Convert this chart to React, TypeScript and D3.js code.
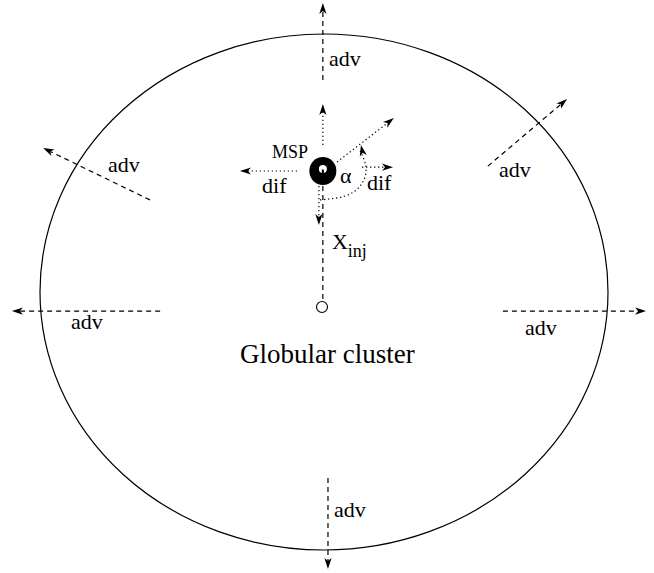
import React from "react";
import * as d3 from "d3";

// Diagram in unit coordinates: the cluster boundary is the unit ellipse.
const W = 654;
const H = 573;

type Arrow = { x1: number; y1: number; x2: number; y2: number };

// advection arrows (dashed), from inside outward
const advArrows: Arrow[] = [
  { x1: -0.004, y1: 0.822, x2: -0.004, y2: 1.12 },
  { x1: 0.014, y1: -0.721, x2: 0.014, y2: -1.074 },
  { x1: -0.577, y1: -0.074, x2: -1.099, y2: -0.074 },
  { x1: 0.63, y1: -0.074, x2: 1.134, y2: -0.074 },
  { x1: -0.613, y1: 0.357, x2: -0.989, y2: 0.558 },
  { x1: 0.577, y1: 0.488, x2: 0.856, y2: 0.748 },
];
const advLabels: [number, number][] = [
  [0.018, 0.876],
  [0.035, -0.872],
  [-0.891, -0.143],
  [0.708, -0.167],
  [-0.761, 0.465],
  [0.616, 0.446],
];

// diffusion arrows (dotted) around the MSP
const difArrows: Arrow[] = [
  { x1: -0.004, y1: 0.57, x2: -0.004, y2: 0.729 },
  { x1: -0.095, y1: 0.469, x2: -0.296, y2: 0.469 },
  { x1: 0.134, y1: 0.484, x2: 0.243, y2: 0.484 },
  { x1: 0.046, y1: 0.504, x2: 0.246, y2: 0.674 },
  { x1: -0.018, y1: 0.411, x2: -0.018, y2: 0.26 },
];
const arcPoints: [number, number][] = [
  [-0.014, 0.357],
  [0.074, 0.372],
  [0.13, 0.415],
  [0.148, 0.481],
  [0.13, 0.57],
];

const mspPos: [number, number] = [-0.004, 0.469];
const injLine: Arrow = { x1: -0.004, y1: 0.411, x2: -0.004, y2: -0.031 };
const centerPos: [number, number] = [-0.007, -0.058];

type Label = { text: string; x: number; y: number; size: number };
const labels: Label[] = [
  { text: "MSP", x: -0.183, y: 0.519, size: 18 },
  { text: "dif", x: -0.218, y: 0.384, size: 22 },
  { text: "dif", x: 0.151, y: 0.395, size: 22 },
  { text: "α", x: 0.056, y: 0.422, size: 22 },
  { text: "Globular cluster", x: -0.296, y: -0.275, size: 27 },
];
const xinj = { x: 0.028, y: 0.167 };

const xs = d3.scaleLinear().domain([-1, 1]).range([40, 608]);
const ys = d3.scaleLinear().domain([-1, 1]).range([550, 34]);

const FONT = '"Liberation Serif", Tinos, "Times New Roman", "DejaVu Serif", serif';
const txtStyle = { fontFamily: FONT };

function Head({ x, y, fromX, fromY }: { x: number; y: number; fromX: number; fromY: number }) {
  const ang = (Math.atan2(y - fromY, x - fromX) * 180) / Math.PI;
  return (
    <path
      d="M0,0 L-11,-3.6 L-8,0 L-11,3.6 Z"
      transform={`translate(${x},${y}) rotate(${ang})`}
      fill="#000"
    />
  );
}

function ArrowLine({ a, dash }: { a: Arrow; dash: string }) {
  const x1 = xs(a.x1), y1 = ys(a.y1), x2 = xs(a.x2), y2 = ys(a.y2);
  const ang = Math.atan2(y2 - y1, x2 - x1);
  const ex = x2 - 8 * Math.cos(ang);
  const ey = y2 - 8 * Math.sin(ang);
  return (
    <g>
      <line x1={x1} y1={y1} x2={ex} y2={ey} stroke="#000" strokeWidth={1.2} strokeDasharray={dash} />
      <Head x={x2} y={y2} fromX={x1} fromY={y1} />
    </g>
  );
}

export default function App() {
  const arcLine = d3
    .line<[number, number]>()
    .x((d) => xs(d[0]))
    .y((d) => ys(d[1]))
    .curve(d3.curveNatural);
  const lastP = arcPoints[arcPoints.length - 1];
  const prevP = arcPoints[arcPoints.length - 2];
  const cx = xs(0), cy = ys(0);
  const rx = xs(1) - xs(0), ry = ys(-1) - ys(0);
  return (
    <svg
      width={W}
      height={H}
      style={{ position: "absolute", left: 0, top: 0, background: "#fff", fontFamily: FONT }}
    >
      <rect width={W} height={H} fill="#fff" />
      <ellipse cx={cx} cy={cy} rx={rx} ry={ry} fill="none" stroke="#000" strokeWidth={1.2} />

      {advArrows.map((a, i) => (
        <ArrowLine key={"a" + i} a={a} dash="5,4" />
      ))}
      {advLabels.map((p, i) => (
        <text key={"al" + i} x={xs(p[0])} y={ys(p[1])} fontSize={22} style={txtStyle}>
          adv
        </text>
      ))}

      {difArrows.map((a, i) => (
        <ArrowLine key={"d" + i} a={a} dash="1.3,2.7" />
      ))}
      <path
        d={arcLine(arcPoints.slice(0, -1).concat([[lastP[0] - 0.004, lastP[1] - 0.02]])) || ""}
        fill="none"
        stroke="#000"
        strokeWidth={1.2}
        strokeDasharray="1.3,2.7"
      />
      <Head x={xs(lastP[0])} y={ys(lastP[1])} fromX={xs(prevP[0])} fromY={ys(prevP[1])} />

      <line
        x1={xs(injLine.x1)}
        y1={ys(injLine.y1)}
        x2={xs(injLine.x2)}
        y2={ys(injLine.y2)}
        stroke="#000"
        strokeWidth={1.2}
        strokeDasharray="5,4"
      />
      <circle cx={xs(centerPos[0])} cy={ys(centerPos[1])} r={5.5} fill="#fff" stroke="#000" strokeWidth={1.1} />

      <ellipse cx={xs(mspPos[0])} cy={ys(mspPos[1])} rx={13.5} ry={14} fill="#000" />
      <circle cx={xs(mspPos[0])} cy={ys(mspPos[1]) - 2} r={4} fill="#fff" />
      <rect x={xs(mspPos[0]) - 1} y={ys(mspPos[1]) - 1.5} width={2} height={4} fill="#000" />

      {labels.map((l, i) => (
        <text key={"l" + i} x={xs(l.x)} y={ys(l.y)} fontSize={l.size} style={txtStyle}>
          {l.text}
        </text>
      ))}
      <text x={xs(xinj.x)} y={ys(xinj.y)} fontSize={22} style={txtStyle}>
        X
        <tspan dy={8} fontSize={18}>
          inj
        </tspan>
      </text>
    </svg>
  );
}
